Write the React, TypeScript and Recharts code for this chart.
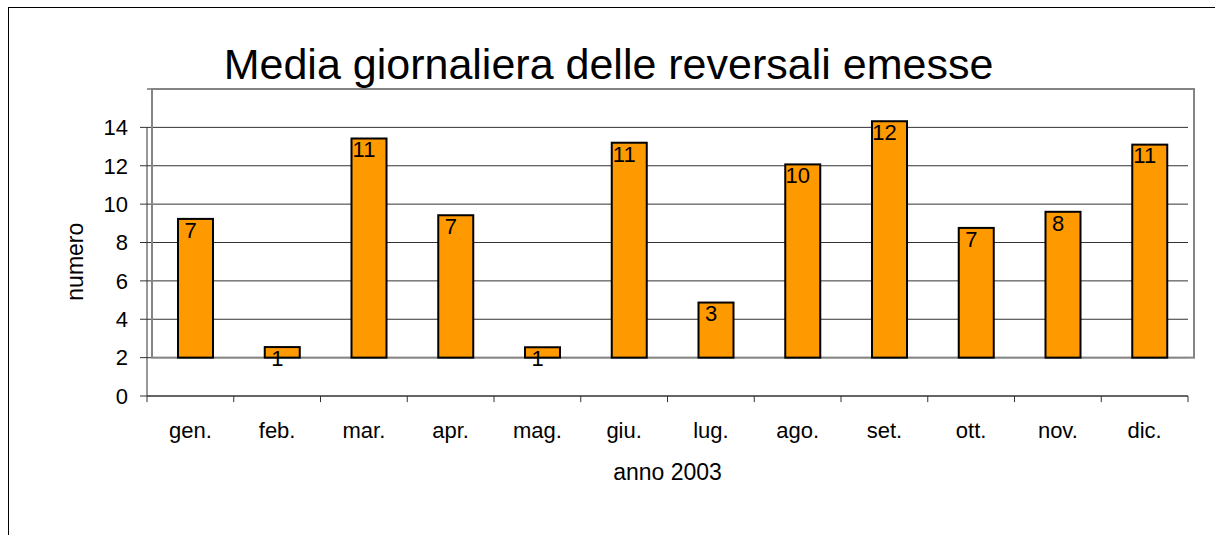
import {
  ComposedChart,
  Bar,
  XAxis,
  YAxis,
  CartesianGrid,
  ReferenceLine,
  ReferenceArea,
  LabelList,
  Label,
} from "recharts";

const months = ["gen.", "feb.", "mar.", "apr.", "mag.", "giu.", "lug.", "ago.", "set.", "ott.", "nov.", "dic."];
// top of each column as it sits on the axis (columns start from 2)
const barTops = [9.23, 2.55, 13.42, 9.42, 2.54, 13.2, 4.87, 12.07, 14.32, 8.76, 9.6, 13.1];
// value printed on each column
const barLabels = [7, 1, 11, 7, 1, 11, 3, 10, 12, 7, 8, 11];
const BASE = 2;
const yTicks = [0, 2, 4, 6, 8, 10, 12, 14];

const data = months.map((m, i) => ({
  month: m,
  range: [BASE, barTops[i]],
  label: barLabels[i],
}));

const FONT = "'Liberation Sans', Arial, sans-serif";
const DEPTH = 5; // excel's fake 3d shift of the back wall and columns

const ShiftedBar = (props: any) => {
  const { x, y, width, height } = props;
  return <rect x={x + DEPTH} y={y} width={width} height={height} fill="#FF9900" stroke="#000" strokeWidth={2} />;
};

const Wall = (props: any) => {
  const { x, y, width, height } = props;
  return <rect x={x + DEPTH} y={y} width={width + 1} height={height} fill="none" stroke="#848484" strokeWidth={2} />;
};

const renderBarLabel = (props: any) => {
  const { x, y, width, value } = props;
  return (
    <text x={x + width / 2} y={y + 11} dy="0.355em" textAnchor="middle" fontSize={22} fontFamily={FONT} fill="#000">
      {value}
    </text>
  );
};

const renderYTitle = (props: any) => {
  const { viewBox } = props;
  const cy = viewBox.y + viewBox.height * (1 - 7 / 16);
  const cx = 75;
  return (
    <text
      x={cx}
      y={cy}
      dy="0.355em"
      transform={`rotate(-90 ${cx} ${cy})`}
      textAnchor="middle"
      fontSize={23}
      fontFamily={FONT}
      fill="#000"
    >
      numero
    </text>
  );
};

export default function App() {
  return (
    <div style={{ position: "relative", width: 1215, height: 535, background: "#fff", overflow: "hidden" }}>
      <style>{"body{margin:0}"}</style>
      <div
        style={{
          position: "absolute",
          left: 8,
          top: 7,
          right: -2,
          bottom: -2,
          borderTop: "1px solid #000",
          borderLeft: "1px solid #000",
        }}
      />
      <div
        style={{
          position: "absolute",
          left: 0,
          width: 1217,
          top: 43,
          textAlign: "center",
          fontFamily: FONT,
          fontSize: 43,
          lineHeight: "43px",
          color: "#000",
          whiteSpace: "nowrap",
        }}
      >
        Media giornaliera delle reversali emesse
      </div>
      <div style={{ position: "absolute", left: 0, top: 0 }}>
        <ComposedChart width={1215} height={535} data={data} margin={{ top: 89, right: 27, bottom: 49, left: 0 }}>
          <CartesianGrid vertical={false} stroke="#333" strokeWidth={1} />
          <ReferenceArea x1="gen." x2="dic." y1={2} y2={16} shape={<Wall />} ifOverflow="visible" />
          <XAxis
            dataKey="month"
            interval={0}
            height={90}
            tickLine={false}
            tickSize={6}
            tickMargin={20}
            axisLine={{ stroke: "#333", strokeWidth: 1 }}
            tick={{ fontSize: 22, fill: "#000", fontFamily: FONT }}
          >
            <Label value="anno 2003" position="insideBottom" offset={6} fontSize={23} fill="#000" fontFamily={FONT} />
          </XAxis>
          <YAxis
            domain={[0, 16]}
            ticks={yTicks}
            width={147}
            axisLine={false}
            tickLine={{ stroke: "#333" }}
            tickSize={7}
            tickMargin={12}
            tick={{ fontSize: 22, fill: "#000", fontFamily: FONT }}
          >
            <Label content={renderYTitle} />
          </YAxis>
          <ReferenceLine
            segment={[{ x: "gen.", y: 0 }, { x: "gen.", y: 14 }]}
            position="start"
            stroke="#333"
            ifOverflow="visible"
          />
          {months.map((m) => (
            <ReferenceLine
              key={m}
              segment={[{ x: m, y: 0 }, { x: m, y: -0.32 }]}
              position="start"
              stroke="#333"
              ifOverflow="visible"
            />
          ))}
          <ReferenceLine
            segment={[{ x: "dic.", y: 0 }, { x: "dic.", y: -0.32 }]}
            position="end"
            stroke="#333"
            ifOverflow="visible"
          />
          <Bar dataKey="range" barSize={35} shape={<ShiftedBar />} isAnimationActive={false}>
            <LabelList dataKey="label" content={renderBarLabel} />
          </Bar>
        </ComposedChart>
      </div>
    </div>
  );
}
